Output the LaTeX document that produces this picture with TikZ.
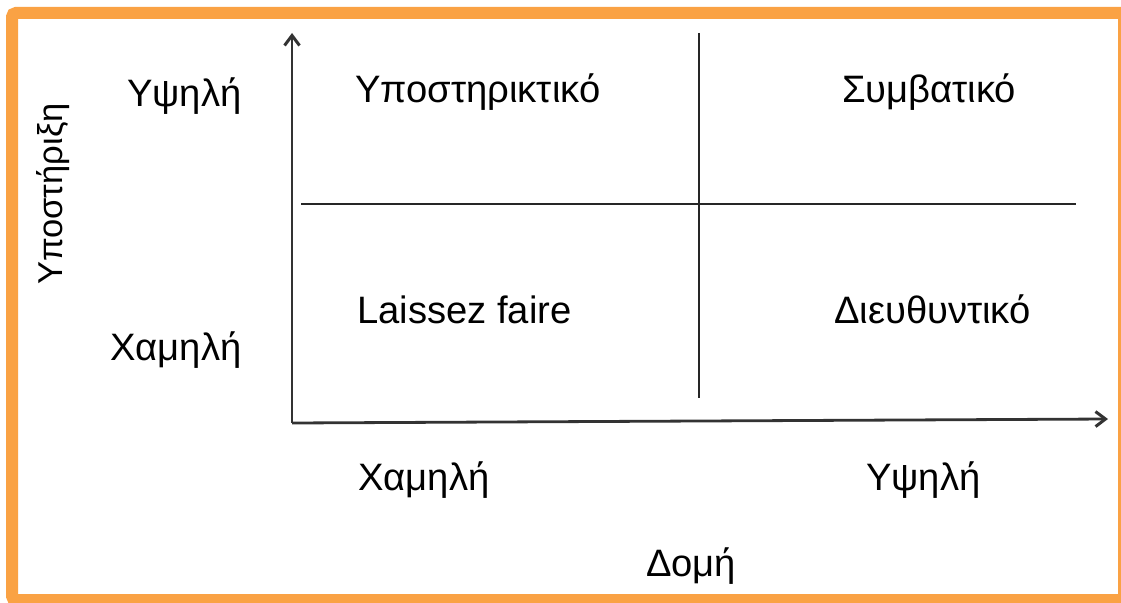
\documentclass[tikz,border=0pt]{standalone}
\usepackage{fontspec}
\setmainfont{Liberation Sans}
\usetikzlibrary{arrows.meta}
\definecolor{frameorange}{RGB}{250,162,68}
\begin{document}
\begin{tikzpicture}[x=1pt,y=-1pt,
    lbl/.style={anchor=base west,inner sep=0pt,
      font=\fontsize{38.2}{44}\selectfont},
    axis/.style={line width=2.8pt,black!80,
      -{Straight Barb[length=10pt,width=15pt,line width=3pt]}},
    divider/.style={line width=2pt,black!85}]
  \useasboundingbox (0,0) rectangle (1121,602);
  \draw [frameorange,line width=12pt,rounded corners=4pt]
    (12,13) rectangle (1124,600);

  \coordinate (o) at (292, 423);
  \coordinate (yend) at (292, 33);
  \coordinate (xend) at (1108, 419);
  \coordinate (h1) at (301, 204);
  \coordinate (h2) at (1076, 204);
  \coordinate (v1) at (699, 33);
  \coordinate (v2) at (699, 398);

  \draw [axis] (o) -- (yend);
  \draw [axis] (o) -- (xend);
  \draw [divider] (h1) -- (h2);
  \draw [divider] (v1) -- (v2);

  \node [lbl] (supp) at (355, 102) {Υποστηρικτικό};
  \node [lbl] (conv) at (842, 102) {Συμβατικό};
  \node [lbl] (laissez) at (357, 323) {Laissez faire};
  \node [lbl] (direct) at (834, 323) {Διευθυντικό};

  \node [lbl] (yhigh) at (127, 106) {Υψηλή};
  \node [lbl] (ylow) at (110, 360) {Χαμηλή};
  \node [lbl,rotate=90,font=\fontsize{34.5}{40}\selectfont]
    (ytitle) at (62, 285) {Υποστήριξη};

  \node [lbl] (xlow) at (358, 490) {Χαμηλή};
  \node [lbl] (xhigh) at (866, 490) {Υψηλή};
  \node [lbl] (xtitle) at (646, 576) {Δομή};
\end{tikzpicture}
\end{document}
